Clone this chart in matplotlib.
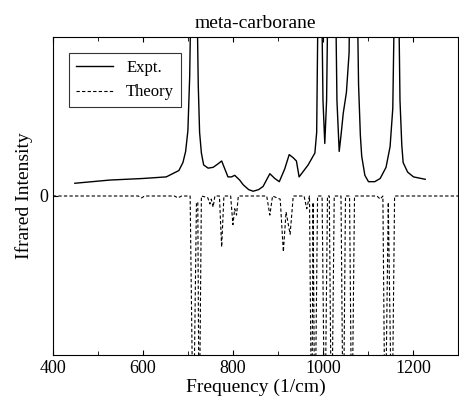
import matplotlib
matplotlib.use("Agg")
import matplotlib.pyplot as plt
from matplotlib.ticker import MultipleLocator

plt.rcParams['font.family'] = ['Liberation Serif', 'DejaVu Serif']

expt_freq = [449, 526, 600, 652, 680, 689, 695, 700, 704, 708, 719, 723, 726, 730, 735, 745, 756, 766, 775, 782, 789, 797, 804, 815, 823, 835, 845, 857, 867, 882, 893, 903, 915, 925, 934, 941, 947, 955, 967, 976, 982, 986, 990, 996, 1000, 1004, 1008, 1012, 1027, 1031, 1036, 1040, 1045, 1052, 1058, 1060, 1075, 1079, 1083, 1086, 1093, 1101, 1115, 1127, 1140, 1149, 1155, 1160, 1167, 1171, 1175, 1178, 1188, 1201, 1227]
expt_val = [0.08, 0.10, 0.11, 0.12, 0.16, 0.21, 0.28, 0.41, 0.75, 1.5, 1.5, 0.7, 0.40, 0.27, 0.195, 0.175, 0.18, 0.20, 0.22, 0.17, 0.12, 0.12, 0.13, 0.10, 0.07, 0.04, 0.03, 0.04, 0.06, 0.14, 0.11, 0.09, 0.17, 0.26, 0.24, 0.22, 0.12, 0.15, 0.195, 0.24, 0.27, 0.40, 1.5, 1.5, 0.6, 0.33, 0.6, 1.5, 1.5, 0.6, 0.28, 0.38, 0.52, 0.65, 0.9, 1.5, 1.5, 0.7, 0.38, 0.25, 0.13, 0.09, 0.09, 0.11, 0.18, 0.31, 0.55, 1.5, 1.5, 0.6, 0.32, 0.21, 0.15, 0.12, 0.105]

theory_freq = [400, 590, 597, 604, 670, 678, 686, 705, 712, 719, 722, 725, 730, 744, 749, 752, 756, 760, 770, 775, 780, 795, 800, 804, 808, 812, 875, 882, 888, 905, 912, 918, 927, 934, 958, 964, 970, 975, 978, 982, 988, 998, 1004, 1010, 1014, 1019, 1025, 1040, 1045, 1050, 1059, 1064, 1070, 1120, 1127, 1133, 1138, 1145, 1153, 1159, 1300]
theory_val = [0, 0, -0.012, 0, 0, -0.012, 0, 0, -1.6, -0.04, -0.04, -1.6, 0, -0.01, -0.05, -0.02, -0.07, 0, 0, -0.32, 0, 0, -0.18, -0.08, -0.12, 0, 0, -0.12, 0, -0.02, -0.35, -0.1, -0.24, 0, 0, -0.08, 0, -1.6, -0.04, -1.6, 0, 0, -1.6, 0, 0, -1.6, 0, 0, -1.6, 0, 0, -1.6, 0, 0, -0.02, 0, -1.6, -0.04, -1.6, 0, 0]

fig, ax = plt.subplots(figsize=(4.59, 4.0), dpi=100)
fig.subplots_adjust(left=0.115, right=0.998, top=0.908, bottom=0.112)
ax.plot(expt_freq, expt_val, color='black', lw=1.0, label='Expt.')
ax.plot(theory_freq, theory_val, color='black', lw=0.8, ls=(0, (3, 2)), label='Theory')
ax.set_xlim(400, 1300)
ax.set_ylim(-1, 1)
ax.xaxis.set_major_locator(MultipleLocator(200))
ax.xaxis.set_minor_locator(MultipleLocator(100))
ax.set_yticks([0])
ax.tick_params(direction='in', top=True, which='both', labelsize=13)
ax.tick_params(axis='x', which='minor', length=3)
ax.set_xlabel('Frequency (1/cm)', fontsize=14, labelpad=1)
ax.set_ylabel('Ifrared Intensity', fontsize=14)
ax.set_title('meta-carborane', fontsize=14)
leg = ax.legend(loc='upper left', fontsize=12, fancybox=False, edgecolor='black', borderaxespad=1.0, handlelength=2.2)
leg.get_frame().set_linewidth(0.8)
fig.savefig('out.png', dpi=100)
